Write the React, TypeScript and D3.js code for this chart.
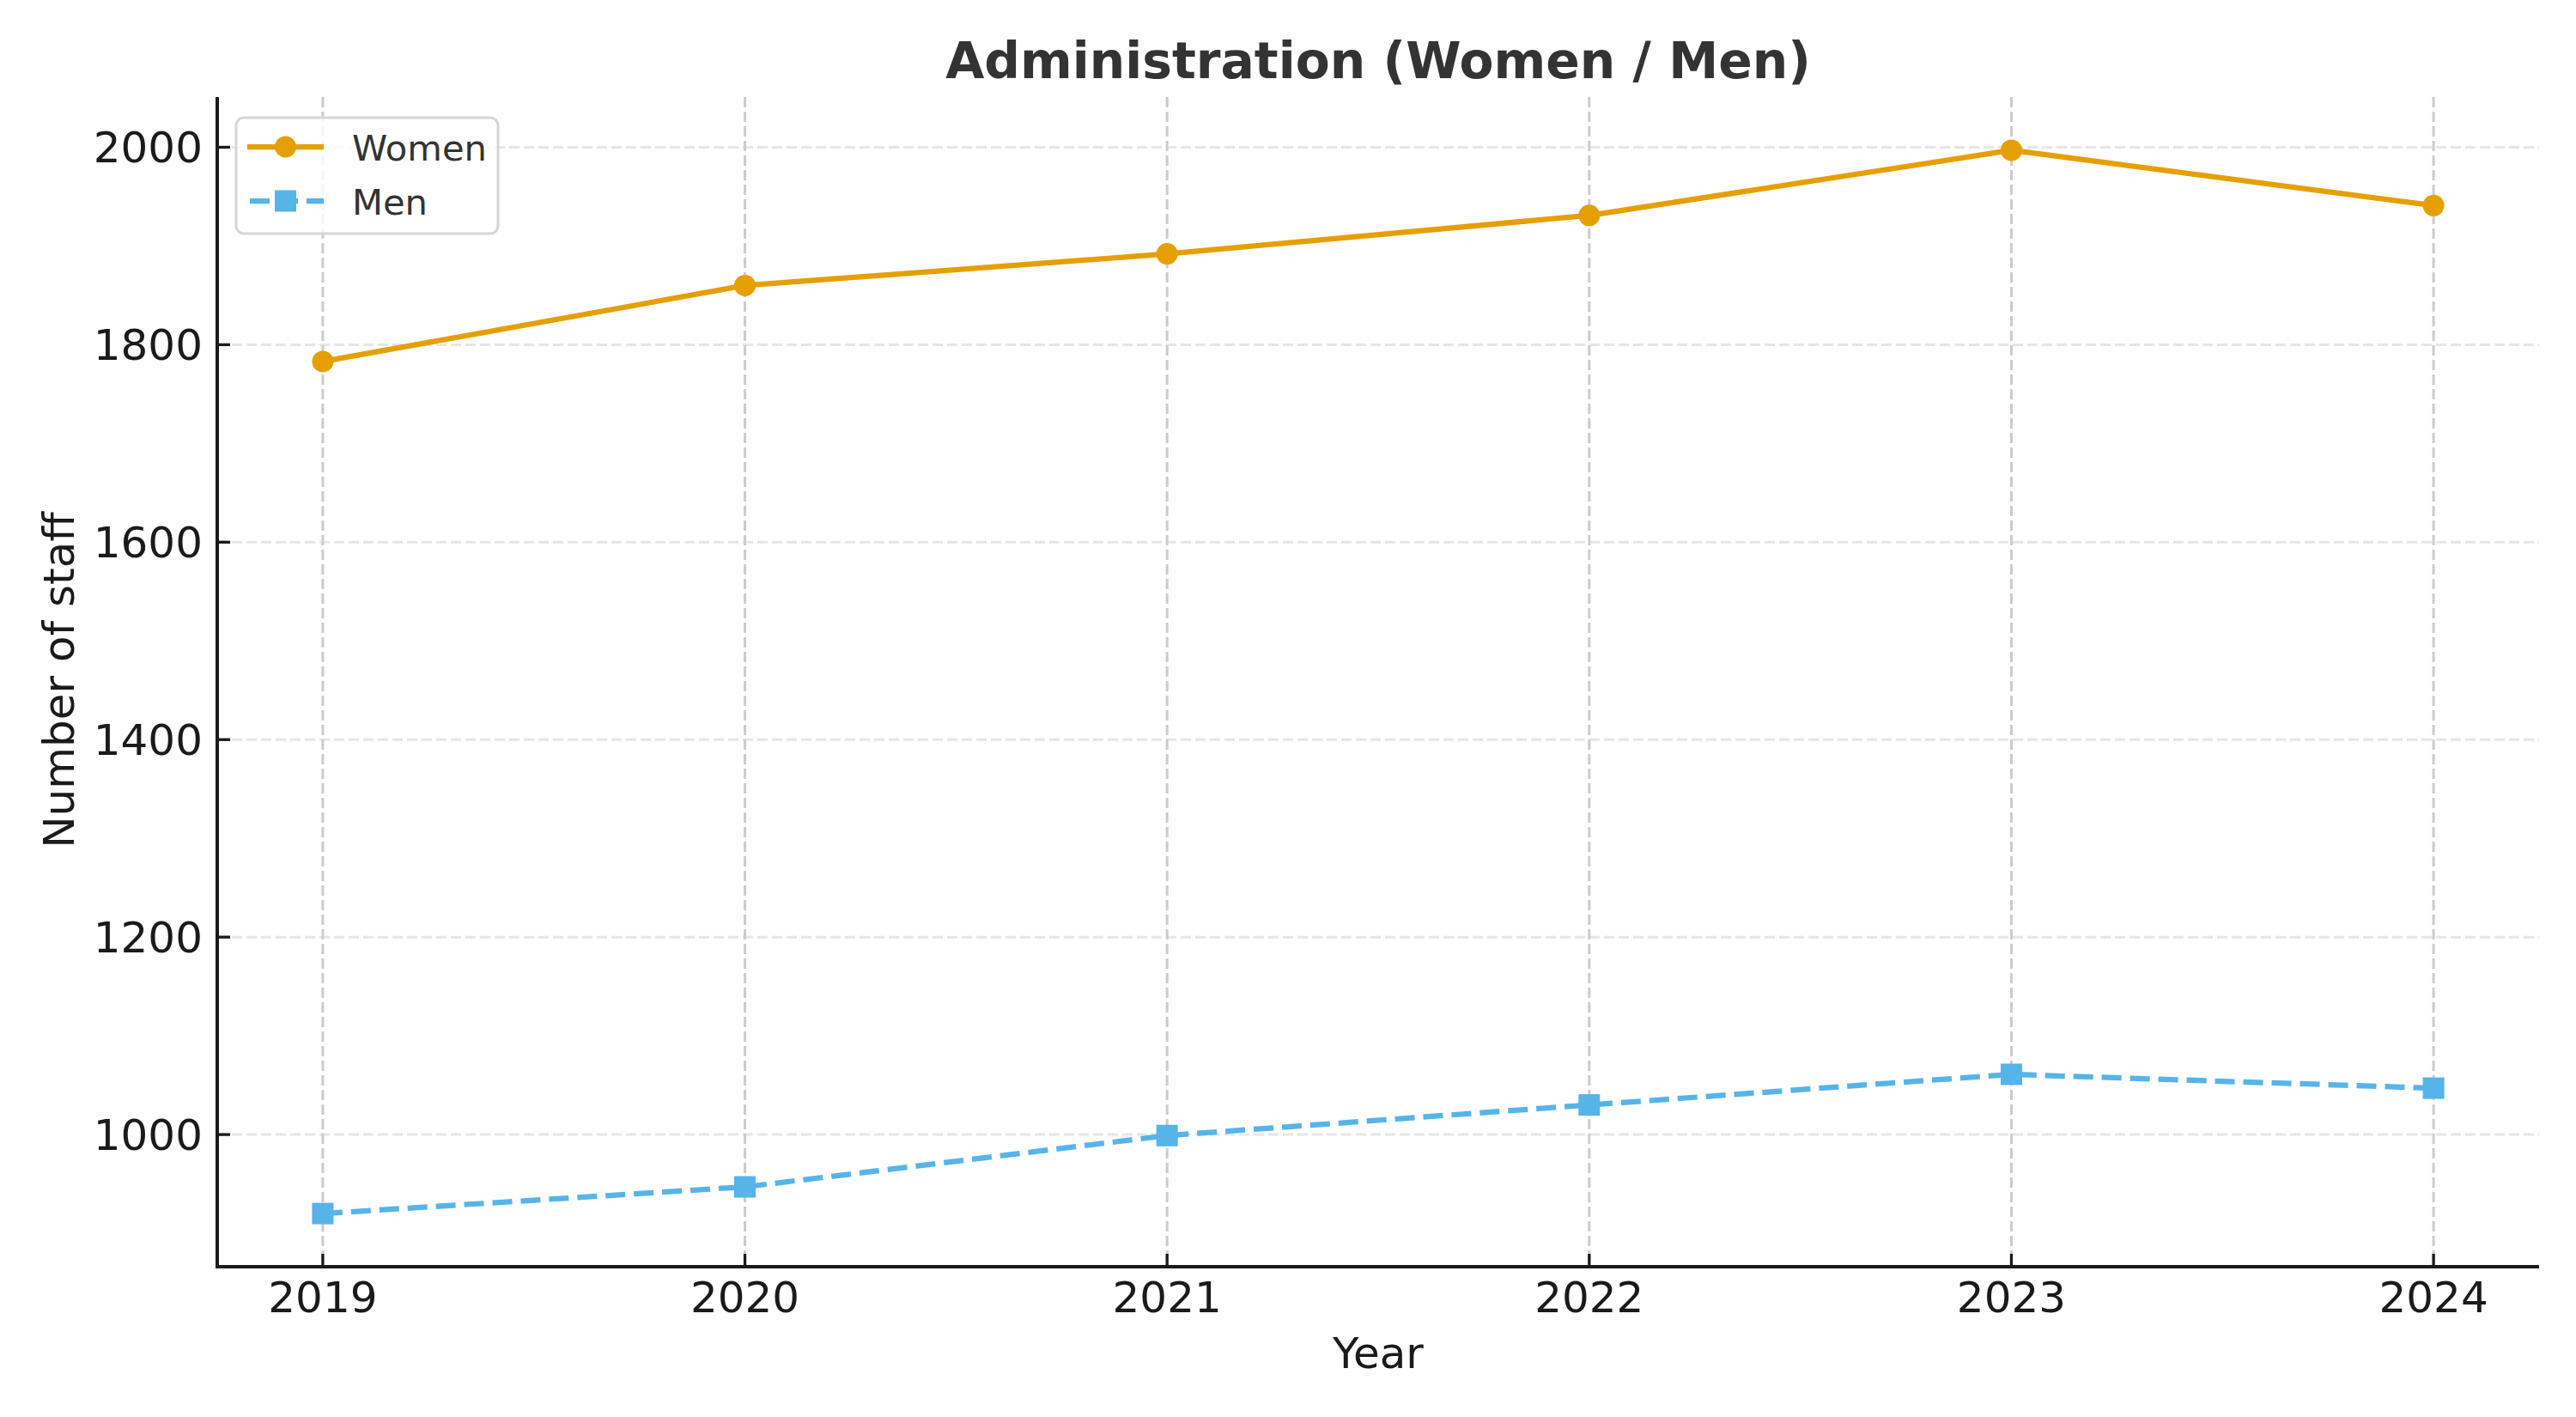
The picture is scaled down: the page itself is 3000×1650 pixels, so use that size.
import React from "react";
import * as d3 from "d3";

const years = [2019, 2020, 2021, 2022, 2023, 2024];
const women = [1783, 1860, 1892, 1931, 1997, 1941];
const men = [920, 947, 999, 1030, 1061, 1047];
const yTicks = [1000, 1200, 1400, 1600, 1800, 2000];
const title = "Administration (Women / Men)";
const xLabel = "Year";
const yLabel = "Number of staff";
const seriesNames = ["Women", "Men"];

const W = 3000;
const H = 1650;
const left = 253;
const right = 2957;
const top = 113;
const bottom = 1475;
const FONT = "'DejaVu Sans', sans-serif";
const WOMEN_C = "#E69F00";
const MEN_C = "#56B4E9";

export default function App() {
  const xPad = (d3.max(years)! - d3.min(years)!) * 0.05;
  const x = d3
    .scaleLinear()
    .domain([d3.min(years)! - xPad, d3.max(years)! + xPad])
    .range([left, right]);
  const all = [...women, ...men];
  const yMin = d3.min(all)!;
  const yMax = d3.max(all)!;
  const yPad = (yMax - yMin) * 0.05;
  const y = d3
    .scaleLinear()
    .domain([yMin - yPad, yMax + yPad])
    .range([bottom, top]);

  const line = d3
    .line<number>()
    .x((_, i) => x(years[i]))
    .y((d) => y(d));

  const sq = 25;
  const r = 12.5;

  return (
    <svg
      width={W}
      height={H}
      viewBox={`0 0 ${W} ${H}`}
      style={{ position: "absolute", left: 0, top: 0, background: "#fff" }}
    >
      <rect x={0} y={0} width={W} height={H} fill="#fff" />
      {/* grid */}
      {yTicks.map((t) => (
        <line
          key={"hg" + t}
          x1={left}
          x2={right}
          y1={y(t)}
          y2={y(t)}
          stroke="#e6e6e6"
          strokeWidth={3}
          strokeDasharray="12,5"
        />
      ))}
      {years.map((yr) => (
        <line
          key={"vg" + yr}
          x1={x(yr)}
          x2={x(yr)}
          y1={top}
          y2={bottom}
          stroke="#cccccc"
          strokeWidth={3}
          strokeDasharray="12,5"
        />
      ))}
      {/* series */}
      <path d={line(women)!} fill="none" stroke={WOMEN_C} strokeWidth={6.25} strokeLinejoin="round" strokeLinecap="square" />
      {women.map((v, i) => (
        <circle key={"w" + i} cx={x(years[i])} cy={y(v)} r={r} fill={WOMEN_C} />
      ))}
      <path
        d={line(men)!}
        fill="none"
        stroke={MEN_C}
        strokeWidth={6.25}
        strokeDasharray="23,10"
        strokeLinejoin="round"
      />
      {men.map((v, i) => (
        <rect key={"m" + i} x={x(years[i]) - sq / 2} y={y(v) - sq / 2} width={sq} height={sq} fill={MEN_C} />
      ))}
      {/* spines */}
      <line x1={left} x2={left} y1={top} y2={bottom + 2} stroke="#1a1a1a" strokeWidth={4} />
      <line x1={left - 2} x2={right} y1={bottom} y2={bottom} stroke="#1a1a1a" strokeWidth={4} />
      {/* ticks */}
      {yTicks.map((t) => (
        <g key={"yt" + t}>
          <line x1={left} x2={left + 15} y1={y(t)} y2={y(t)} stroke="#1a1a1a" strokeWidth={3.3} />
          <text
            x={236}
            y={y(t)}
            dy="0.36em"
            textAnchor="end"
            fontFamily={FONT}
            fontSize={50}
            fill="#1a1a1a"
          >
            {t}
          </text>
        </g>
      ))}
      {years.map((yr) => (
        <g key={"xt" + yr}>
          <line x1={x(yr)} x2={x(yr)} y1={bottom} y2={bottom - 15} stroke="#1a1a1a" strokeWidth={3.3} />
          <text x={x(yr)} y={1528} textAnchor="middle" fontFamily={FONT} fontSize={50} fill="#1a1a1a">
            {yr}
          </text>
        </g>
      ))}
      {/* labels */}
      <text x={(left + right) / 2} y={1593} textAnchor="middle" fontFamily={FONT} fontSize={50} fill="#1a1a1a">
        {xLabel}
      </text>
      <text
        transform={`translate(86, 792) rotate(-90)`}
        textAnchor="middle"
        fontFamily={FONT}
        fontSize={50}
        fill="#1a1a1a"
      >
        {yLabel}
      </text>
      <text
        x={(left + right) / 2}
        y={91}
        textAnchor="middle"
        fontFamily={FONT}
        fontSize={58.3}
        fontWeight="bold"
        fill="#333333"
      >
        {title}
      </text>
      {/* legend */}
      <g>
        <rect x={275} y={137} width={305} height={135} rx={9} ry={9} fill="#fff" fillOpacity={0.8} stroke="#d5d5d5" strokeWidth={3} />
        <line x1={288} x2={377} y1={171} y2={171} stroke={WOMEN_C} strokeWidth={6.25} />
        <circle cx={332.5} cy={171} r={r} fill={WOMEN_C} />
        <text x={410} y={186.5} fontFamily={FONT} fontSize={41.7} fill="#333333">
          {seriesNames[0]}
        </text>
        <line x1={291} x2={377} y1={234} y2={234} stroke={MEN_C} strokeWidth={6.25} strokeDasharray="23,10" />
        <rect x={332.5 - sq / 2} y={234 - sq / 2} width={sq} height={sq} fill={MEN_C} />
        <text x={410} y={250} fontFamily={FONT} fontSize={41.7} fill="#333333">
          {seriesNames[1]}
        </text>
      </g>
    </svg>
  );
}
